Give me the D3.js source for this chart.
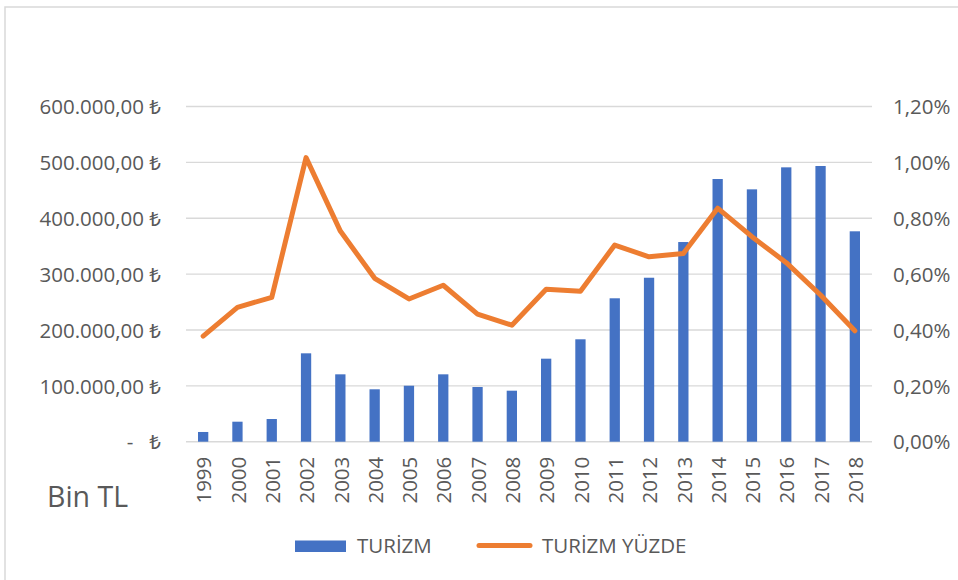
<!DOCTYPE html>
<html>
<head>
<meta charset="utf-8">
<script src="https://cdnjs.cloudflare.com/ajax/libs/d3/7.8.5/d3.min.js"></script>
<style>
  body { margin: 0; background: #fff; }
  text { font-family: "Open Sans", "DejaVu Sans", sans-serif; fill: #595959; }
</style>
</head>
<body>
<div id="my_dataviz"></div>
<script>
// years on the x axis
var years = ["1999","2000","2001","2002","2003","2004","2005","2006","2007","2008",
             "2009","2010","2011","2012","2013","2014","2015","2016","2017","2018"];
// TURİZM (Bin TL)
var turizm = [17400, 35800, 40600, 158200, 120600, 93800, 100200, 120600, 97900, 91300,
              148600, 183300, 256700, 293500, 357400, 470200, 451700, 491100, 493500, 376600];
// TURİZM YÜZDE (%)
var yuzde = [0.378, 0.481, 0.517, 1.017, 0.754, 0.585, 0.511, 0.560, 0.457, 0.417,
             0.546, 0.539, 0.704, 0.662, 0.674, 0.836, 0.734, 0.641, 0.525, 0.397];
var leftTicks = [0, 100000, 200000, 300000, 400000, 500000, 600000];
var rightTicks = [0, 0.2, 0.4, 0.6, 0.8, 1.0, 1.2];
var seriesNames = ["TURİZM", "TURİZM YÜZDE"];

var trLocale = d3.formatLocale({decimal: ",", thousands: ".", grouping: [3], currency: ["", ""]});
var fmtMoney = trLocale.format(",.2f");
var fmtPct = trLocale.format(".2f");

function drawCanvas() {
  var margin = {"top":106.5,"right":86,"left":186,"bottom":138.3};
  var canvas = d3.select("#my_dataviz").append("svg")
    .attr("width",958).attr("height",580);

  canvas.append("rect").attr("width",958).attr("height",580).attr("fill","#fff");
  // chart border (only top and left visible in the crop)
  canvas.append("rect").attr("x",5).attr("y",7).attr("width",1000).attr("height",620)
    .attr("fill","none").attr("stroke","#d9d9d9").attr("stroke-width",1.5);

  var width = canvas.attr("width") - margin.left - margin.right;
  var height = canvas.attr("height") - margin.top - margin.bottom;

  var xScale = d3.scaleBand()
    .range([0, width])
    .paddingInner(0.7)
    .paddingOuter(0.35)
    .domain(years);

  var yScale = d3.scaleLinear().domain([0,600000]).range([height,0]);
  var y2Scale = d3.scaleLinear().domain([0,1.2]).range([height,0]);

  var chartGroup = canvas.append("g").attr("transform","translate(" + margin.left + "," + margin.top + ")");

  // gridlines
  chartGroup.append("g").selectAll("line").data(leftTicks).enter().append("line")
    .attr("x1",0).attr("x2",width)
    .attr("y1",function(d){return yScale(d);}).attr("y2",function(d){return yScale(d);})
    .attr("stroke","#d9d9d9").attr("stroke-width",1.4);

  // left axis
  var y_axisGroup = chartGroup.append("g")
    .call(d3.axisLeft(yScale).tickValues(leftTicks).tickSize(0).tickPadding(25));
  y_axisGroup.select(".domain").remove();
  y_axisGroup.selectAll("text").style("font-size","20.5px").style("white-space","pre")
    .attr("fill","#595959").attr("dy","0.35em")
    .text(null)
    .each(function(d){
      var t = d3.select(this);
      t.append("tspan").text(d === 0 ? "-   " : fmtMoney(d) + " ");
      t.append("tspan").style("font-family","'Noto Sans', 'DejaVu Sans', sans-serif").text("₺");
    });

  // right axis
  var y2_axisGroup = chartGroup.append("g").attr("transform","translate(" + width + ",0)")
    .call(d3.axisRight(y2Scale).tickValues(rightTicks).tickSize(0).tickPadding(21)
      .tickFormat(function(d){ return fmtPct(d) + "%"; }));
  y2_axisGroup.select(".domain").remove();
  y2_axisGroup.selectAll("text").style("font-size","20.5px").attr("fill","#595959").attr("dy","0.35em");

  // x axis
  var x_axisGroup = chartGroup.append("g").attr("transform","translate(0," + height + ")")
    .call(d3.axisBottom(xScale).tickSize(0).tickPadding(0));
  x_axisGroup.select(".domain").remove();
  x_axisGroup.selectAll("text")
    .style("font-size","20.5px")
    .attr("fill","#595959")
    .style("text-anchor","end")
    .attr("x",-15)
    .attr("y",1)
    .attr("dy","0.35em")
    .attr("transform","rotate(-90)");

  // bars
  chartGroup.selectAll(".bar").data(turizm).enter().append("rect").attr("class","bar")
    .attr("fill","#4472C4")
    .attr("x",function(d,i){ return xScale(years[i]); })
    .attr("y",function(d){ return yScale(d); })
    .attr("width",xScale.bandwidth())
    .attr("height",function(d){ return height - yScale(d); });

  // line
  var line = d3.line()
    .x(function(d,i){ return xScale(years[i]) + xScale.bandwidth()/2; })
    .y(function(d){ return y2Scale(d); });
  chartGroup.append("path").datum(yuzde)
    .attr("d",line)
    .attr("fill","none")
    .attr("stroke","#ED7D31")
    .attr("stroke-width",5)
    .attr("stroke-linejoin","round")
    .attr("stroke-linecap","round");

  // unit label
  canvas.append("text").attr("x",47).attr("y",507).style("font-size","28.5px").text("Bin TL");

  // legend
  var legend = canvas.append("g");
  legend.append("rect").attr("x",295).attr("y",540.5).attr("width",51).attr("height",11.5).attr("fill","#4472C4");
  legend.append("text").attr("x",357).attr("y",546).attr("dy","0.35em").style("font-size","20.5px").text(seriesNames[0]);
  legend.append("line").attr("x1",479).attr("x2",530).attr("y1",545.5).attr("y2",545.5)
    .attr("stroke","#ED7D31").attr("stroke-width",5).attr("stroke-linecap","round");
  legend.append("text").attr("x",542).attr("y",546).attr("dy","0.35em").style("font-size","20.5px").text(seriesNames[1]);
}

drawCanvas();
</script>
</body>
</html>
